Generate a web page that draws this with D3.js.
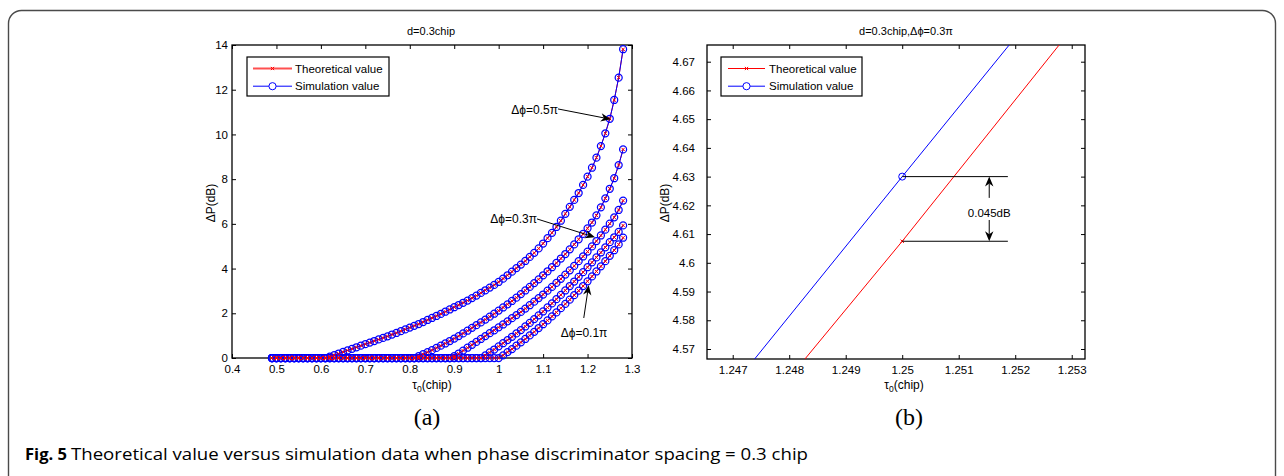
<!DOCTYPE html>
<html><head><meta charset="utf-8">
<script src="https://cdn.jsdelivr.net/npm/d3@7"></script>
<style>body{margin:0;background:#fff}svg{display:block}</style>
</head><body><svg id="c" width="1284" height="476"></svg>
<script>
// ---------- DATA: panel (a) ----------
const tauA = [0.49,0.50,0.51,0.52,0.53,0.54,0.55,0.56,0.57,0.58,0.59,0.60,0.61,0.62,0.63,0.64,0.65,0.66,0.67,0.68,0.69,0.70,0.71,0.72,0.73,0.74,0.75,0.76,0.77,0.78,0.79,0.80,0.81,0.82,0.83,0.84,0.85,0.86,0.87,0.88,0.89,0.90,0.91,0.92,0.93,0.94,0.95,0.96,0.97,0.98,0.99,1.00,1.01,1.02,1.03,1.04,1.05,1.06,1.07,1.08,1.09,1.10,1.11,1.12,1.13,1.14,1.15,1.16,1.17,1.18,1.19,1.20,1.21,1.22,1.23,1.24,1.25,1.26,1.27,1.28];
// Δφ = 0.5π
const dP_05 = [0,0,0,0,0,0,0,0,0,0,0,0,0,0.06,0.13,0.20,0.27,0.34,0.41,0.48,0.55,0.62,0.69,0.76,0.83,0.90,0.97,1.05,1.12,1.20,1.28,1.36,1.44,1.52,1.61,1.70,1.79,1.88,1.97,2.07,2.17,2.27,2.37,2.47,2.57,2.68,2.79,2.91,3.03,3.15,3.27,3.40,3.55,3.70,3.86,4.02,4.18,4.34,4.52,4.70,4.90,5.12,5.36,5.60,5.86,6.14,6.45,6.76,7.07,7.38,7.74,8.11,8.51,8.96,9.48,10.05,10.70,11.54,12.54,13.81];
// Δφ = 0.4π
const dP_04 = [0,0,0,0,0,0,0,0,0,0,0,0,0,0,0,0,0,0,0,0,0,0,0,0,0,0,0,0,0,0,0,0,0,0.08,0.17,0.26,0.35,0.45,0.55,0.65,0.76,0.87,0.98,1.10,1.22,1.35,1.47,1.59,1.72,1.85,1.98,2.12,2.26,2.40,2.55,2.70,2.86,3.02,3.18,3.35,3.52,3.70,3.88,4.06,4.25,4.45,4.65,4.86,5.08,5.31,5.55,5.80,6.06,6.38,6.74,7.14,7.57,8.04,8.63,9.33];
// Δφ = 0.3π
const dP_03 = [0,0,0,0,0,0,0,0,0,0,0,0,0,0,0,0,0,0,0,0,0,0,0,0,0,0,0,0,0,0,0,0,0,0,0,0,0,0,0,0,0,0.08,0.20,0.33,0.46,0.59,0.72,0.85,0.98,1.11,1.24,1.37,1.50,1.64,1.78,1.92,2.06,2.21,2.36,2.52,2.68,2.84,3.01,3.18,3.36,3.54,3.73,3.92,4.12,4.33,4.54,4.76,4.99,5.23,5.48,5.74,6.01,6.29,6.62,7.04];
// Δφ = 0.2π
const dP_02 = [0,0,0,0,0,0,0,0,0,0,0,0,0,0,0,0,0,0,0,0,0,0,0,0,0,0,0,0,0,0,0,0,0,0,0,0,0,0,0,0,0,0,0,0,0,0,0,0,0.12,0.25,0.38,0.52,0.66,0.80,0.95,1.10,1.25,1.41,1.57,1.74,1.91,2.08,2.26,2.44,2.63,2.82,3.02,3.22,3.42,3.63,3.84,4.06,4.28,4.50,4.72,4.95,5.18,5.40,5.64,5.93];
// Δφ = 0.1π
const dP_01 = [0,0,0,0,0,0,0,0,0,0,0,0,0,0,0,0,0,0,0,0,0,0,0,0,0,0,0,0,0,0,0,0,0,0,0,0,0,0,0,0,0,0,0,0,0,0,0,0,0,0,0,0,0.12,0.26,0.40,0.55,0.70,0.85,1.01,1.17,1.34,1.51,1.68,1.86,2.04,2.23,2.42,2.61,2.81,3.01,3.22,3.43,3.65,3.87,4.10,4.33,4.57,4.82,5.08,5.38];
// theoretical and simulation coincide at this scale
const theoA = [dP_05, dP_04, dP_03, dP_02, dP_01];
const simA  = [dP_05, dP_04, dP_03, dP_02, dP_01];
const xTicksA = [0.4,0.5,0.6,0.7,0.8,0.9,1,1.1,1.2,1.3];
const yTicksA = [0,2,4,6,8,10,12,14];

// ---------- DATA: panel (b) ----------
const tauB  = [1.24, 1.25, 1.26];
const theoB = [4.3695, 4.6075, 4.8535];
const simB  = [4.387, 4.630, 4.872];
const xTicksB = [1.247,1.248,1.249,1.25,1.251,1.252,1.253];
const yTicksB = [4.57,4.58,4.59,4.6,4.61,4.62,4.63,4.64,4.65,4.66,4.67];

const legendLabels = ["Theoretical value","Simulation value"];
const annA = [
  {label:"Δϕ=0.5π", tx:1.1336, ty:11.09, fx:1.1336, fy:11.14, px:1.2522, py:10.68, anchor:"end"},
  {label:"Δϕ=0.3π", tx:1.0863, ty:6.20, fx:1.0863, fy:6.22, px:1.2168, py:5.40, anchor:"end"},
  {label:"Δϕ=0.1π", tx:1.192, ty:1.12, fx:1.1915, fy:1.79, px:1.2025, py:3.26, anchor:"middle"}
];

// ---------- DRAWING ----------
const svg = d3.select("#c");
const FONT = "'Liberation Sans', Arial, Helvetica, sans-serif";
const RED = "#ff0000", BLUE = "#0000ff";

svg.append("rect").attr("x",8.5).attr("y",10.5).attr("width",1267).attr("height",520)
  .attr("rx",13).attr("fill","none").attr("stroke","#4a4a4a").attr("stroke-width",1.4);

function arrowHead(g, x1, y1, x2, y2, L=10, w=4.2){
  const dx = x2-x1, dy = y2-y1, len = Math.hypot(dx,dy);
  const ux = dx/len, uy = dy/len, nx = -uy, ny = ux;
  const bx = x2-L*ux, by = y2-L*uy;
  const kx = x2-0.7*L*ux, ky = y2-0.7*L*uy;
  g.append("line").attr("x1",x1).attr("y1",y1).attr("x2",kx).attr("y2",ky)
    .attr("stroke","#000").attr("stroke-width",1);
  g.append("path").attr("d",`M${x2},${y2}L${bx+w*nx},${by+w*ny}L${kx},${ky}L${bx-w*nx},${by-w*ny}Z`)
    .attr("fill","#000");
}

function panel(cfg){
  const g = svg.append("g");
  const x = d3.scaleLinear().domain(cfg.xdom).range([cfg.left, cfg.right]);
  const y = d3.scaleLinear().domain(cfg.ydom).range([cfg.bottom, cfg.top]);
  const clipId = "clip"+cfg.id;
  svg.append("clipPath").attr("id",clipId).append("rect")
    .attr("x",cfg.left).attr("y",cfg.top).attr("width",cfg.right-cfg.left).attr("height",cfg.bottom-cfg.top);

  // axes
  const ax = g.append("g").attr("font-family",FONT);
  ax.append("g").attr("transform",`translate(0,${cfg.bottom})`)
    .call(d3.axisBottom(x).tickValues(cfg.xticks).tickSize(-4).tickPadding(7).tickFormat(cfg.xfmt));
  ax.append("g").attr("transform",`translate(0,${cfg.top})`)
    .call(d3.axisTop(x).tickValues(cfg.xticks).tickSize(-4).tickFormat(""));
  ax.append("g").attr("transform",`translate(${cfg.left},0)`)
    .call(d3.axisLeft(y).tickValues(cfg.yticks).tickSize(-4).tickPadding(cfg.ypad).tickFormat(cfg.yfmt));
  ax.append("g").attr("transform",`translate(${cfg.right},0)`)
    .call(d3.axisRight(y).tickValues(cfg.yticks).tickSize(-4).tickFormat(""));
  ax.selectAll(".domain").remove();
  ax.selectAll(".tick line").attr("stroke","#000");
  ax.selectAll(".tick text").attr("fill","#000").attr("font-size",11.5).attr("font-family",FONT);
  ax.append("rect").attr("x",cfg.left).attr("y",cfg.top).attr("width",cfg.right-cfg.left)
    .attr("height",cfg.bottom-cfg.top).attr("fill","none").attr("stroke","#000").attr("stroke-width",1.3);

  // data
  const dg = g.append("g").attr("clip-path",`url(#${clipId})`);
  const line = d3.line().x(d=>x(d[0])).y(d=>y(d[1]));
  const theoPts = cfg.theo.map(s=>cfg.tau.map((t,i)=>[t,s[i]]));
  const simPts = cfg.sim.map(s=>cfg.tau.map((t,i)=>[t,s[i]]));
  theoPts.forEach(p=>dg.append("path").attr("d",line(p)).attr("fill","none").attr("stroke",RED).attr("stroke-width",1));
  simPts.forEach(p=>dg.append("path").attr("d",line(p)).attr("fill","none").attr("stroke",BLUE).attr("stroke-width",1));
  svg.append("clipPath").attr("id",clipId+"m").append("rect")
    .attr("x",cfg.left-5).attr("y",cfg.top-5).attr("width",cfg.right-cfg.left+10).attr("height",cfg.bottom-cfg.top+10);
  const mg = svg.append("g").attr("clip-path",`url(#${clipId}m)`);
  simPts.forEach(p=>p.forEach(d=>{
    if(d[0]<cfg.xdom[0]||d[0]>cfg.xdom[1]||d[1]<cfg.ydom[0]||d[1]>cfg.ydom[1]) return;
    mg.append("circle").attr("cx",x(d[0])).attr("cy",y(d[1])).attr("r",3.5)
      .attr("fill","none").attr("stroke",BLUE).attr("stroke-width",cfg.mw);
  }));
  theoPts.forEach(p=>p.forEach(d=>{
    if(d[0]<cfg.xdom[0]||d[0]>cfg.xdom[1]||d[1]<cfg.ydom[0]||d[1]>cfg.ydom[1]) return;
    const cx=x(d[0]), cy=y(d[1]), s=1.7;
    mg.append("path").attr("d",`M${cx-s},${cy-s}L${cx+s},${cy+s}M${cx-s},${cy+s}L${cx+s},${cy-s}`)
      .attr("stroke",RED).attr("stroke-width",1);
  }));

  // titles and labels
  g.append("text").attr("x",cfg.titleX).attr("y",35).attr("text-anchor","middle")
    .attr("font-family",FONT).attr("font-size",11).text(cfg.title);
  const xl = g.append("text").attr("x",cfg.xlabX).attr("y",389).attr("text-anchor","middle")
    .attr("font-family",FONT).attr("font-size",12);
  xl.append("tspan").text("τ");
  xl.append("tspan").attr("font-size",8.5).attr("dy",3).text("0");
  xl.append("tspan").attr("dy",-3).text("(chip)");
  g.append("text").attr("transform",`translate(${cfg.ylabX},203) rotate(-90)`).attr("text-anchor","middle")
    .attr("font-family",FONT).attr("font-size",12).text("ΔP(dB)");
  g.append("text").attr("x",cfg.subX).attr("y",425).attr("text-anchor","middle")
    .attr("font-family","'Liberation Serif','Times New Roman',serif").attr("font-size",24).text(cfg.sub);

  // legend
  const L = cfg.legend;
  const lg = g.append("g");
  lg.append("rect").attr("x",L.x).attr("y",L.y).attr("width",L.w).attr("height",L.h)
    .attr("fill","#fff").attr("stroke","#000").attr("stroke-width",1.2);
  legendLabels.forEach((lab,i)=>{
    const yy = L.y + 11.5 + i*17.7;
    const col = i===0?RED:BLUE;
    lg.append("line").attr("x1",L.lx1).attr("x2",L.lx2).attr("y1",yy).attr("y2",yy)
      .attr("stroke",i===0?cfg.legCol:col).attr("stroke-width",i===0?cfg.legW:1);
    const cx=(L.lx1+L.lx2)/2;
    if(i===0){ const s=1.6;
      lg.append("path").attr("d",`M${cx-s},${yy-s}L${cx+s},${yy+s}M${cx-s},${yy+s}L${cx+s},${yy-s}`).attr("stroke",col);
    } else {
      lg.append("circle").attr("cx",cx).attr("cy",yy).attr("r",3.6).attr("fill","#fff").attr("stroke",col);
    }
    lg.append("text").attr("x",L.tx).attr("y",yy+4).attr("font-family",FONT).attr("font-size",11.5).text(lab);
  });
  return {g,x,y};
}

const pa = panel({id:"a", left:232, right:632, top:45, bottom:358,
  xdom:[0.4,1.3], ydom:[0,14], xticks:xTicksA, yticks:yTicksA,
  xfmt:d3.format("~g"), yfmt:d3.format("~g"), ypad:4, mw:1.25,
  tau:tauA, theo:theoA, sim:simA, title:"d=0.3chip", titleX:431, xlabX:432, ylabX:215, subX:427, sub:"(a)",
  legend:{x:247,y:57,w:142,h:39,lx1:253,lx2:292,tx:295}, legW:2, legCol:"#ff5050"});

const pb = panel({id:"b", left:707, right:1085, top:45, bottom:359,
  xdom:[1.246545,1.253235], ydom:[4.56652,4.67581], xticks:xTicksB, yticks:yTicksB,
  xfmt:d3.format("~g"), yfmt:d3.format("~g"), ypad:12, mw:1,
  tau:tauB, theo:[theoB], sim:[simB], title:"d=0.3chip,Δϕ=0.3π", titleX:906, xlabX:904, ylabX:669, subX:909, sub:"(b)",
  legend:{x:721,y:57,w:141,h:39,lx1:728,lx2:765,tx:769}, legW:1, legCol:RED});

// annotations (a)
const ag = svg.append("g");
annA.forEach(a=>{
  ag.append("text").attr("x",pa.x(a.tx)).attr("y",pa.y(a.ty)+4).attr("text-anchor",a.anchor)
    .attr("font-family",FONT).attr("font-size",12).text(a.label);
  arrowHead(ag, pa.x(a.fx), pa.y(a.fy), pa.x(a.px), pa.y(a.py));
});

// annotations (b)
const bg = svg.append("g");
const xEnd = 1.25187, xArr = 1.25154;
[simB[1], theoB[1]].forEach(v=>{
  bg.append("line").attr("x1",pb.x(tauB[1])).attr("x2",pb.x(xEnd)).attr("y1",pb.y(v)).attr("y2",pb.y(v))
    .attr("stroke","#000").attr("stroke-width",1);
});
arrowHead(bg, pb.x(xArr), pb.y(4.6226), pb.x(xArr), pb.y(simB[1]));
arrowHead(bg, pb.x(xArr), pb.y(4.6149), pb.x(xArr), pb.y(theoB[1]));
bg.append("text").attr("x",pb.x(xArr)).attr("y",pb.y(4.6172)+4).attr("text-anchor","middle")
  .attr("font-family",FONT).attr("font-size",11.5).text("0.045dB");

// caption
svg.append("text").attr("x",25).attr("y",460).attr("font-family","'Open Sans','Noto Sans',sans-serif")
  .attr("font-weight","bold").attr("font-size",16).attr("textLength",42).attr("lengthAdjust","spacingAndGlyphs").text("Fig. 5");
svg.append("text").attr("x",71).attr("y",460).attr("font-family","'Open Sans','Noto Sans',sans-serif")
  .attr("font-size",16).attr("textLength",737).attr("lengthAdjust","spacingAndGlyphs")
  .text("Theoretical value versus simulation data when phase discriminator spacing = 0.3 chip");
</script></body></html>
